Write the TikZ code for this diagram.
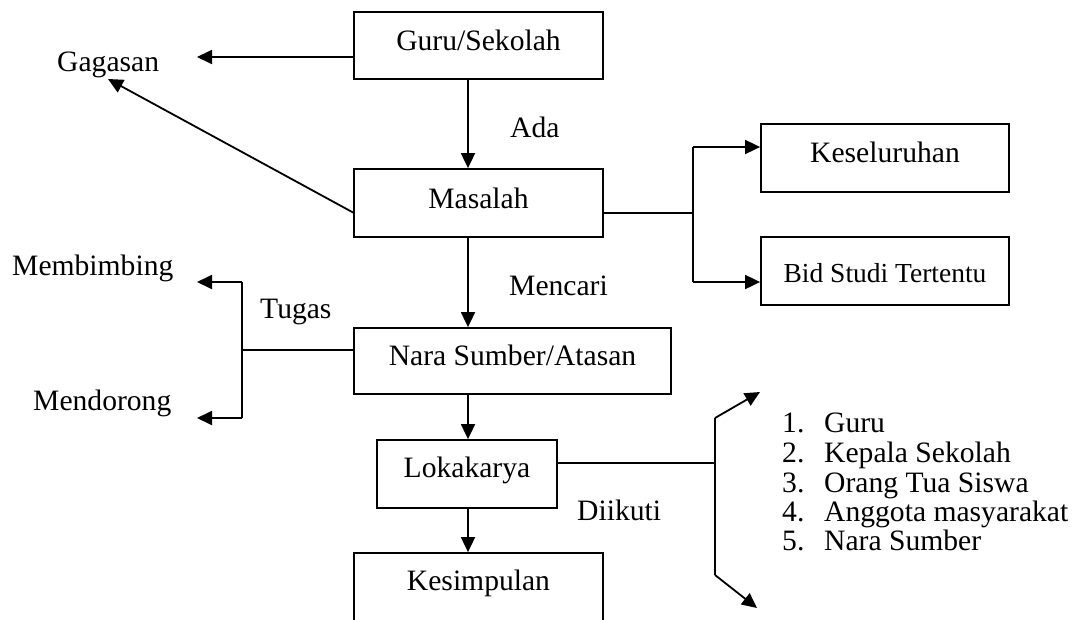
\documentclass[tikz,border=0pt]{standalone}
\usepackage{fontspec}
\setmainfont{Liberation Serif}
\usetikzlibrary{arrows.meta}
\begin{document}
\begin{tikzpicture}[x=1pt,y=-1pt,
  every node/.style={font=\fontsize{29.6}{30}\selectfont},
  box/.style={draw,line width=1.8pt,inner sep=0pt,anchor=base},
  lbl/.style={inner sep=0pt,anchor=base west},
  ln/.style={line width=1.8pt},
  arr/.style={line width=1.8pt,-{Triangle[length=15pt,width=14pt]}}]
\clip (0,0) rectangle (1076,619);
\fill[white] (0,0) rectangle (1076,619);
% boxes
\node[box,minimum width=249pt,text height=38pt,text depth=29pt] (guru) at (478.5,50) {Guru/Sekolah};
\node[box,minimum width=249pt,text height=39pt,text depth=29pt] (masalah) at (478.5,208) {Masalah};
\node[box,minimum width=248pt,text height=38pt,text depth=30pt] (kesel) at (885,162) {Keseluruhan};
\node[box,minimum width=248pt,text height=45pt,text depth=23pt,font=\fontsize{27.5}{28}\selectfont] (bid) at (885,282) {Bid Studi Tertentu};
\node[box,minimum width=317pt,text height=37pt,text depth=29pt] (nara) at (512.5,365) {Nara Sumber/Atasan};
\node[box,minimum width=180pt,text height=37pt,text depth=31pt] (loka) at (467,477) {Lokakarya};
\node[box,minimum width=249pt,text height=37pt,text depth=70pt] (kesim) at (478.5,590) {Kesimpulan};
% labels
\node[lbl] (gagasan) at (57,71) {Gagasan};
\node[lbl] (ada) at (510,137) {Ada};
\node[lbl] (mencari) at (509,295) {Mencari};
\node[lbl] (membimbing) at (12,275) {Membimbing};
\node[lbl] (mendorong) at (33,410) {Mendorong};
\node[lbl] (tugas) at (260,318) {Tugas};
\node[lbl] (diikuti) at (577,520) {Diikuti};
\node[lbl] (n1) at (782,432) {1.};
\node[lbl] (t1) at (824,432) {Guru};
\node[lbl] (n2) at (782,462) {2.};
\node[lbl] (t2) at (824,462) {Kepala Sekolah};
\node[lbl] (n3) at (782,492) {3.};
\node[lbl] (t3) at (824,492) {Orang Tua Siswa};
\node[lbl] (n4) at (782,521) {4.};
\node[lbl] (t4) at (824,521) {Anggota masyarakat};
\node[lbl] (n5) at (782,550) {5.};
\node[lbl] (t5) at (824,550) {Nara Sumber};
% coordinates
\coordinate (gA) at (197,57);
\coordinate (gB) at (108,79);
\coordinate (gBs) at (354,213);
\coordinate (mR) at (693,213);
\coordinate (mRt) at (693,147);
\coordinate (mRb) at (693,282);
\coordinate (tL) at (242,350);
\coordinate (tLt) at (242,282);
\coordinate (tLb) at (242,418);
\coordinate (tA) at (197,282);
\coordinate (tB) at (197,418);
\coordinate (lR) at (715,463);
\coordinate (lRt) at (715,418);
\coordinate (lRb) at (715,575);
\coordinate (lA) at (760,392);
\coordinate (lB) at (757,608);
% connectors
\draw[arr] (guru.west |- gA) -- (gA);
\draw[arr] (gBs) -- (gB);
\draw[arr] (guru.south -| 468,0) -- (masalah.north -| 468,0);
\draw[ln] (masalah.east |- mR) -- (mR);
\draw[ln] (mRt) -- (mRb);
\draw[arr] (mRt) -- (kesel.west |- mRt);
\draw[arr] (mRb) -- (bid.west |- mRb);
\draw[arr] (masalah.south -| 468,0) -- (nara.north -| 468,0);
\draw[ln] (nara.west |- tL) -- (tL);
\draw[ln] (tLt) -- (tLb);
\draw[arr] (tLt) -- (tA);
\draw[arr] (tLb) -- (tB);
\draw[arr] (nara.south -| 468,0) -- (loka.north -| 468,0);
\draw[ln] (loka.east |- lR) -- (lR);
\draw[ln] (lRt) -- (lRb);
\draw[arr] (lRt) -- (lA);
\draw[arr] (lRb) -- (lB);
\draw[arr] (loka.south -| 468,0) -- (kesim.north -| 468,0);
\end{tikzpicture}
\end{document}
